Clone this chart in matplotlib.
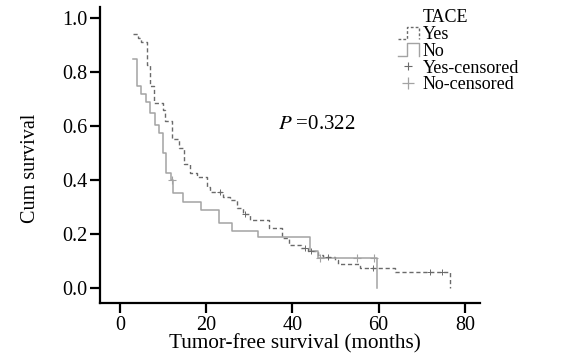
import matplotlib
matplotlib.use('Agg')
import numpy as np
import matplotlib.pyplot as plt
from matplotlib.lines import Line2D
from matplotlib.legend_handler import HandlerBase

plt.rcParams['font.family'] = ['Liberation Serif', 'DejaVu Serif']
plt.rcParams['mathtext.fontset'] = 'stix'

# ---- data ----
yes_t = [3.1, 4.2, 5.0, 6.2, 7.0, 8.0, 9.9, 10.4, 12.2, 13.8, 14.8, 16.2, 17.8, 20.1,
         21.0, 23.9, 25.5, 27.1, 28.5, 30.1, 34.6, 37.7, 39.2, 42.0, 43.7, 46.0, 47.0,
         49.9, 50.6, 55.7, 63.8, 76.5]
yes_s = [0.94, 0.925, 0.91, 0.826, 0.75, 0.685, 0.66, 0.62, 0.55, 0.52, 0.46, 0.426, 0.41,
         0.375, 0.355, 0.337, 0.326, 0.296, 0.274, 0.252, 0.222, 0.185, 0.16, 0.147, 0.137,
         0.122, 0.116, 0.104, 0.09, 0.075, 0.058, 0.0]
no_t = [3.1, 4.0, 5.0, 6.0, 7.0, 8.1, 9.1, 10.0, 10.8, 11.8, 12.4, 14.7, 18.9, 23.0,
        26.1, 32.1, 44.1, 46.0, 59.7]
no_s = [0.85, 0.75, 0.72, 0.69, 0.65, 0.604, 0.573, 0.50, 0.425, 0.40, 0.35, 0.32, 0.29,
        0.242, 0.212, 0.188, 0.138, 0.11, 0.0]
yes_cens_t = [23.2, 29.0, 42.9, 44.4, 48.3, 58.7, 71.9, 74.6]
yes_cens_s = [0.355, 0.274, 0.147, 0.137, 0.116, 0.075, 0.058, 0.058]
no_cens_t = [12.0, 46.4, 55.0, 58.9]
no_cens_s = [0.40, 0.11, 0.11, 0.11]

x_ticks = [0, 20, 40, 60, 80]
y_ticks = [0.0, 0.2, 0.4, 0.6, 0.8, 1.0]
p_text = '$\\mathit{P}$ =0.322'
legend_title = 'TACE'
legend_labels = ['Yes', 'No', 'Yes-censored', 'No-censored']

YES_C = '#6a6a6a'
NO_C = '#a3a3a3'

fig = plt.figure(figsize=(5.62, 3.64), dpi=100)
ax = fig.add_axes([100/562, 61/364, 380/562, 296/364])

ax.step(yes_t, yes_s, where='post', color=YES_C, lw=1.0, ls=(0, (3, 2)))
ax.step(no_t, no_s, where='post', color=NO_C, lw=1.1)
ax.plot(yes_cens_t, yes_cens_s, ls='none', marker='+', ms=5, mew=0.7, color=YES_C)
ax.plot(no_cens_t, no_cens_s, ls='none', marker='+', ms=6, mew=0.8, color=NO_C)

ax.set_xlim(-4.6, 83.5)
ax.set_ylim(-0.056, 1.041)
ax.set_xticks(x_ticks)
ax.set_yticks(y_ticks)
ax.set_yticklabels([f'{v:.1f}' for v in y_ticks])
for s in ['top', 'right']:
    ax.spines[s].set_visible(False)
for s in ['left', 'bottom']:
    ax.spines[s].set_linewidth(1.6)
ax.tick_params(direction='out', length=7, width=1.6, labelsize=14.5, pad=2)
ax.set_xlabel('Tumor-free survival (months)', fontsize=15.2, labelpad=0)
ax.xaxis.label.set_x(0.513)
ax.set_ylabel('Cum survival', fontsize=14.5)
ax.yaxis.set_label_coords(-0.158, 0.456)

ax.text(36.6, 0.604, p_text, fontsize=15, va='center', ha='left')


class StepHandler(HandlerBase):
    def __init__(self, color, ls):
        super().__init__()
        self.color = color
        self.ls = ls

    def create_artists(self, legend, orig_handle, xdescent, ydescent, width, height,
                       fontsize, trans):
        x0, y0 = -xdescent, -ydescent
        xs = [x0, x0 + 0.45 * width, x0 + 0.45 * width, x0 + width, x0 + width]
        ys = [y0 + 0.05 * height, y0 + 0.05 * height, y0 + 0.95 * height,
              y0 + 0.95 * height, y0 + 0.05 * height]
        ln = Line2D(xs, ys, color=self.color, lw=1.0, ls=self.ls, transform=trans)
        return [ln]


h_title = Line2D([], [], lw=0)
h_yes = Line2D([], [], color=YES_C)
h_no = Line2D([], [], color=NO_C)
h_yc = Line2D([], [], ls='none', marker='+', ms=6, mew=0.8, color=YES_C)
h_nc = Line2D([], [], ls='none', marker='+', ms=8, mew=0.9, color=NO_C)

fig.legend([h_title, h_yes, h_no, h_yc, h_nc], [legend_title] + legend_labels,
           handler_map={h_yes: StepHandler(YES_C, (0, (2, 1.5))), h_no: StepHandler(NO_C, '-')},
           loc='upper left', bbox_to_anchor=(398/562, 1 - 9/364), frameon=False,
           fontsize=13, handlelength=1.15, handleheight=0.8, handletextpad=0.2,
           labelspacing=-0.02, borderpad=0, borderaxespad=0)

fig.savefig('out.png', dpi=100)
